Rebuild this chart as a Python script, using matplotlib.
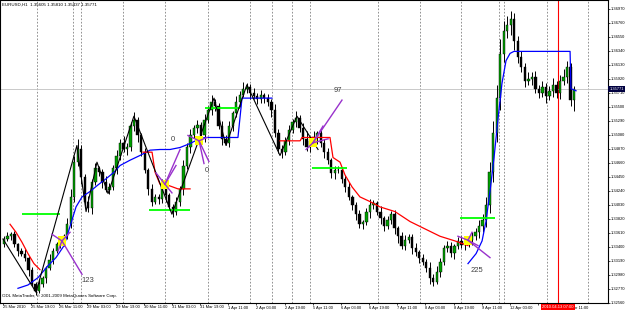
import numpy as np
import matplotlib.pyplot as plt
from matplotlib.patches import Rectangle

plt.rcParams['font.family'] = ['Liberation Sans', 'DejaVu Sans']

# EURUSD H1 closes (one value per two hourly bars)
closes = [
    1.3352, 1.3356, 1.3359, 1.3344, 1.3334, 1.3330, 1.3324, 1.3305, 1.3285, 1.3274,
    1.3285, 1.3293, 1.3309, 1.3321, 1.3334, 1.3344, 1.3350, 1.3356, 1.3374, 1.3415,
    1.3467, 1.3486, 1.3445, 1.3408, 1.3398, 1.3437, 1.3459, 1.3452, 1.3437, 1.3426,
    1.3430, 1.3459, 1.3477, 1.3496, 1.3486, 1.3489, 1.3521, 1.3530, 1.3507, 1.3482,
    1.3456, 1.3427, 1.3408, 1.3415, 1.3412, 1.3433, 1.3418, 1.3400, 1.3392, 1.3408,
    1.3427, 1.3462, 1.3489, 1.3507, 1.3518, 1.3523, 1.3507, 1.3530, 1.3545, 1.3557,
    1.3551, 1.3521, 1.3501, 1.3496, 1.3521, 1.3540, 1.3557, 1.3568, 1.3577, 1.3580,
    1.3571, 1.3566, 1.3561, 1.3567, 1.3563, 1.3557, 1.3545, 1.3511, 1.3486, 1.3482,
    1.3499, 1.3515, 1.3527, 1.3533, 1.3518, 1.3501, 1.3489, 1.3499, 1.3504, 1.3510,
    1.3496, 1.3482, 1.3470, 1.3451, 1.3455, 1.3456, 1.3442, 1.3430, 1.3415, 1.3403,
    1.3389, 1.3374, 1.3377, 1.3392, 1.3403, 1.3406, 1.3393, 1.3383, 1.3371, 1.3380,
    1.3389, 1.3368, 1.3356, 1.3342, 1.3350, 1.3355, 1.3339, 1.3333, 1.3324, 1.3318,
    1.3309, 1.3294, 1.3288, 1.3303, 1.3318, 1.3339, 1.3342, 1.3331, 1.3342, 1.3349,
    1.3343, 1.3346, 1.3350, 1.3356, 1.3362, 1.3371, 1.3380, 1.3403, 1.3452, 1.3511,
    1.3563, 1.3629, 1.3663, 1.3672, 1.3681, 1.3648, 1.3625, 1.3610, 1.3589, 1.3592,
    1.3595, 1.3577, 1.3571, 1.3580, 1.3566, 1.3574, 1.3583, 1.3570, 1.3589, 1.3595,
    1.3610, 1.3560, 1.3577,
]
first_open = 1.3345
upper_pips = [
    4, 6, 3, 5, 2, 4, 7, 3, 5, 2,
    6, 4, 3, 8, 5, 4, 6, 3, 9, 12,
    10, 15, 6, 4, 8, 5, 7, 3, 5, 9,
    6, 4, 8, 5, 10, 7, 6, 12, 5, 4,
    6, 3, 8, 5, 4, 9, 6, 3, 5, 7,
    4, 8, 6, 10, 5, 7, 4, 9, 6, 11,
    5, 4, 7, 6, 8, 3, 9, 5, 10, 6,
    4, 7, 5, 8, 3, 6, 4, 9, 5, 7,
    6, 8, 4, 10, 5, 7, 12, 6, 9, 4,
    8, 5, 6, 3, 7, 5, 4, 6, 8, 3,
    5, 7, 4, 6, 9, 5, 3, 8, 4, 6,
    5, 7, 3, 6, 8, 4, 5, 7, 3, 6,
    4, 8, 5, 9, 6, 4, 7, 5, 3, 6,
    8, 4, 5, 7, 6, 9, 10, 12, 15, 18,
    20, 22, 16, 14, 12, 10, 8, 9, 6, 10,
    7, 8, 5, 9, 6, 7, 10, 5, 8, 12,
    9, 6, 4,
]
lower_pips = [
    5, 3, 6, 4, 7, 3, 5, 8, 4, 6,
    3, 5, 7, 4, 6, 3, 5, 8, 4, 6,
    8, 5, 10, 7, 5, 9, 4, 6, 8, 3,
    7, 5, 9, 6, 4, 8, 5, 7, 10, 6,
    5, 9, 7, 4, 8, 6, 10, 5, 7, 4,
    6, 9, 5, 8, 4, 7, 6, 10, 5, 8,
    7, 5, 9, 4, 6, 8, 5, 7, 3, 6,
    9, 4, 7, 5, 8, 6, 10, 7, 5, 9,
    4, 7, 5, 8, 6, 9, 5, 7, 4, 10,
    6, 8, 5, 7, 9, 4, 6, 8, 5, 7,
    9, 5, 7, 4, 8, 6, 5, 9, 7, 4,
    6, 8, 10, 5, 7, 4, 9, 6, 8, 5,
    7, 9, 6, 4, 8, 5, 7, 6, 9, 5,
    4, 8, 6, 7, 5, 9, 8, 10, 12, 15,
    14, 18, 12, 10, 15, 13, 9, 8, 10, 7,
    9, 6, 8, 7, 10, 6, 9, 7, 8, 6,
    10, 9, 16,
]

# "12 Apr 19:00" sits under the red time box in the original, so it is left blank
date_labels = ["25 Mar 2010", "25 Mar 19:00", "26 Mar 11:00", "29 Mar 03:00",
               "29 Mar 19:00", "30 Mar 11:00", "31 Mar 03:00", "31 Mar 19:00",
               "1 Apr 11:00", "2 Apr 03:00", "2 Apr 19:00", "5 Apr 11:00",
               "6 Apr 03:00", "6 Apr 19:00", "7 Apr 11:00", "8 Apr 03:00",
               "8 Apr 19:00", "9 Apr 11:00", "12 Apr 03:00", "",
               "13 Apr 11:00"]
label_step = 16
price_ticks = [1.3256 + 0.0021 * i for i in range(22)]

separators = [19.3, 39.8, 44.3, 68.2, 92.0, 116.5, 140.3, 152.8, 164.2, 174.4,
              213.1, 236.9, 260.2, 281.8, 284.7, 309.1, 332.4]
now_bar = 315.3
now_text = "2010.04.13 07:00"
bid = 1.3577
header = "EURUSD,H1  1.35605 1.35810 1.35437 1.35771"
copyright_text = "ODL MetaTrader, \u00a9 2001-2009 MetaQuotes Software Corp."

zigzag_bar = [0, 18.8, 42.0, 47.2, 53.4, 59.7, 74.4, 96.0, 119.9, 126.7, 138.6, 157.4, 167.0, 179.0]
zigzag_price = [1.3352, 1.3272, 1.3492, 1.3393, 1.3467, 1.3420, 1.3536, 1.3389, 1.3563,
                1.3492, 1.3583, 1.3477, 1.3536, 1.3486]

blue1_bar = [8.5, 14.2, 19.9, 25.6, 30.1, 34.7, 38.1, 41.5, 44.9, 49.4, 54.0, 58.5, 63.1,
             66.5, 72.2, 77.8, 83.5, 89.2, 94.9, 100.6, 106.3, 110.8, 114.8, 133.5, 135.8, 152.8]
blue1_price = [1.3278, 1.3283, 1.3294, 1.3312, 1.3324, 1.3342, 1.3371, 1.3400, 1.3415,
               1.3423, 1.3433, 1.3442, 1.3452, 1.3462, 1.3470, 1.3477, 1.3485, 1.3486,
               1.3486, 1.3489, 1.3495, 1.3501, 1.3504, 1.3504, 1.3563, 1.3563]
blue2_bar = [264.2, 268.8, 272.2, 274.4, 276.7, 279.0, 281.3, 283.5, 285.8, 288.1, 290.3,
             322.2, 322.7, 325.6]
blue2_price = [1.3315, 1.3330, 1.3349, 1.3378, 1.3423, 1.3474, 1.3533, 1.3585, 1.3619,
               1.3630, 1.3633, 1.3633, 1.3577, 1.3574]

red1_bar = [4.0, 7.4, 10.8, 14.2, 17.6, 21.0]
red1_price = [1.3374, 1.3362, 1.3347, 1.3330, 1.3315, 1.3306]
red2_bar = [79.5, 84.7, 86.4, 89.2, 93.2, 99.4, 106.3]
red2_price = [1.3482, 1.3482, 1.3452, 1.3434, 1.3433, 1.3427, 1.3427]
red3_bar = [157.4, 168.8, 169.9, 185.8, 187.5, 191.5, 194.3, 198.3, 202.8, 208.5, 214.2,
            222.7, 231.3, 239.8, 248.3, 256.8, 264.2]
red3_price = [1.3499, 1.3499, 1.3504, 1.3504, 1.3474, 1.3467, 1.3448, 1.3430, 1.3415,
              1.3408, 1.3400, 1.3393, 1.3378, 1.3367, 1.3356, 1.3349, 1.3342]

green_start = [10.8, 83.0, 114.8, 175.6, 259.7]
green_end = [32.4, 106.3, 134.7, 195.5, 279.5]
green_price = [1.3389, 1.3395, 1.3548, 1.3459, 1.3384]

fan_bar = [33.5, 92.0, 111.4, 176.1, 264.2]
fan_price = [1.3349, 1.3434, 1.3499, 1.3496, 1.3350]
fan_end_bar = [[44.9, 27.8, 38.1, 31.3], [100.6, 98.3, 86.9, 96.0],
               [117.0, 114.2, 105.1, 115.9], [192.6, 184.7, 181.8, 172.2],
               [276.7, 269.9, 258.5, 266.5]]
fan_end_price = [[1.3299, 1.3359, 1.3362, 1.3334], [1.3486, 1.3462, 1.3451, 1.3421],
                 [1.3468, 1.3465, 1.3507, 1.3504], [1.3560, 1.3502, 1.3521, 1.3486],
                 [1.3324, 1.3342, 1.3356, 1.3362]]
fan_text = ["123", "0", "0", "97", "225"]
fan_text_bar = [48.3, 96.6, 115.9, 190.3, 269.3]
fan_text_price = [1.3290, 1.3501, 1.3454, 1.3574, 1.3305]

fig = plt.figure(figsize=(6.25, 3.14), dpi=100)
ax = fig.add_axes([0, 11 / 314, 608 / 625, 303 / 314])
ax.set_xlim(-1.7, 343.75)
ax.set_ylim(1.32634, 1.3710)

for s in separators:
    ax.axvline(s, color='#808080', lw=0.6, ls=(0, (2, 2)), zorder=1)
ax.axvline(now_bar, color='#ff0000', lw=0.8, zorder=1)
ax.axhline(bid, color='#c0c0c0', lw=0.6, zorder=1)

# candles
c = np.array(closes)
o = np.concatenate([[first_open], c[:-1]])
hi = np.maximum(o, c) + np.array(upper_pips) * 0.0001
lo = np.minimum(o, c) - np.array(lower_pips) * 0.0001
xb = np.arange(len(c)) * 2 + 0.5
ax.vlines(xb, lo, hi, color='black', lw=0.7, zorder=2)
body = np.maximum(np.abs(c - o), 0.00008)
up = c >= o
ax.bar(xb[up], body[up], bottom=o[up], width=1.3, color='#00a000',
       edgecolor='black', linewidth=0.3, zorder=2)
ax.bar(xb[~up], body[~up], bottom=c[~up], width=1.3, color='black',
       edgecolor='black', linewidth=0.3, zorder=2)

ax.plot(blue1_bar, blue1_price, color='#0000ff', lw=0.9, zorder=3)
ax.plot(blue2_bar, blue2_price, color='#0000ff', lw=0.9, zorder=3)
for xs, ys in [(red1_bar, red1_price), (red2_bar, red2_price), (red3_bar, red3_price)]:
    ax.plot(xs, ys, color='#ff0000', lw=0.9, zorder=3)
ax.hlines(green_price, green_start, green_end, color='#00ff00', lw=1.3, zorder=3)
ax.plot(zigzag_bar, zigzag_price, color='black', lw=0.8, zorder=4)

for i in range(len(fan_bar)):
    ax.add_patch(Rectangle((fan_bar[i] - 2.3, fan_price[i] - 0.0007), 4.6, 0.0014,
                           facecolor='#ffff00', edgecolor='none', zorder=5))
    for eb, ep in zip(fan_end_bar[i], fan_end_price[i]):
        ax.plot([fan_bar[i], eb], [fan_price[i], ep], color='#9932cc', lw=1.0, zorder=6)
    ax.text(fan_text_bar[i], fan_text_price[i], fan_text[i], fontsize=5.5,
            color='#404040', ha='center', va='center', zorder=7)

ax.text(0.004, 0.992, header, transform=ax.transAxes, fontsize=3.2,
        ha='left', va='top', color='black')
ax.text(0.004, 0.015, copyright_text, transform=ax.transAxes, fontsize=3.2,
        ha='left', va='bottom', color='black')

ax.yaxis.tick_right()
ax.set_yticks(price_ticks)
ax.set_yticklabels([f'{p:.5f}' for p in price_ticks])
ax.set_xticks(np.arange(len(date_labels)) * label_step)
ax.set_xticklabels(date_labels, ha='left')
ax.tick_params(axis='both', labelsize=2.9, length=1.2, width=0.5, pad=0.6, colors='black')
for sp in ax.spines.values():
    sp.set_linewidth(0.8)

ax.text(1.002, bid, '1.35771', transform=ax.get_yaxis_transform(), ha='left',
        va='center', color='white', fontsize=2.9, clip_on=False, zorder=10,
        bbox=dict(facecolor='#000040', edgecolor='none', pad=0.6))
ax.text(now_bar, -0.006, now_text, transform=ax.get_xaxis_transform(), ha='center',
        va='top', color='white', fontsize=3.0, clip_on=False, zorder=10,
        bbox=dict(facecolor='#ff0000', edgecolor='none', pad=0.8))

plt.savefig('out.png', dpi=100)
plt.close()
